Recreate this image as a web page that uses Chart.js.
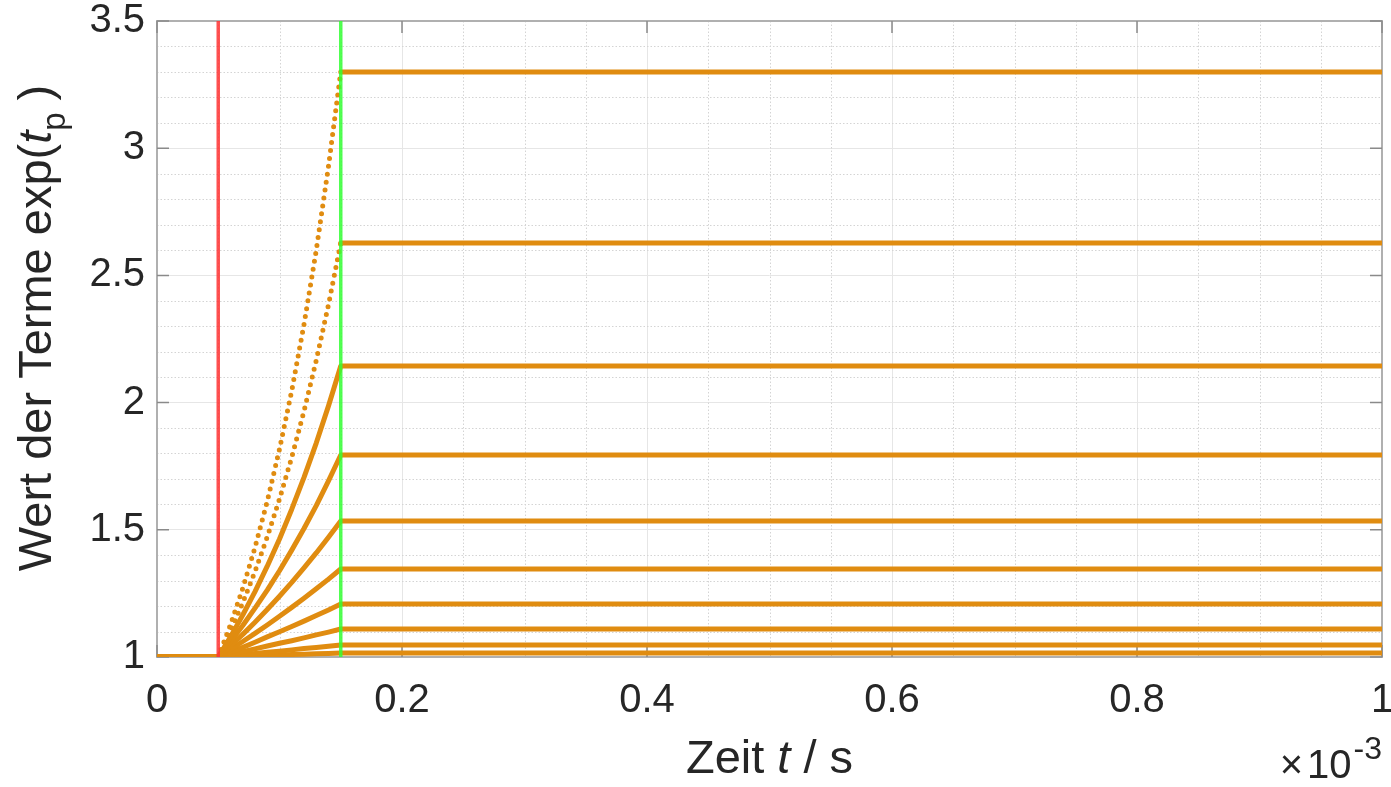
<!DOCTYPE html>
<html>
<head>
<meta charset="utf-8">
<script src="https://cdn.jsdelivr.net/npm/chart.js@4.4.1/dist/chart.umd.min.js"></script>
<style>
  body { margin: 0; background: #fff; }
  #wrap { width: 1391px; height: 787px; }
</style>
</head>
<body>
<div id="wrap"><canvas id="myChart" width="1391" height="787"></canvas></div>
<script>
// time in units of 1e-3 s
const timeMs = [0, 0.05, 0.06, 0.07, 0.08, 0.09, 0.10, 0.11, 0.12, 0.13, 0.14, 0.15, 1.0];

// values of the terms exp(t_p) (top curve first)
const term1  = [1, 1, 1.127, 1.270, 1.431, 1.612, 1.817, 2.047, 2.307, 2.599, 2.929, 3.300, 3.300];
const term2  = [1, 1, 1.101, 1.213, 1.336, 1.472, 1.621, 1.785, 1.966, 2.166, 2.385, 2.627, 2.627];
const term3  = [1, 1, 1.079, 1.165, 1.257, 1.357, 1.464, 1.581, 1.706, 1.841, 1.987, 2.144, 2.144];
const term4  = [1, 1, 1.060, 1.124, 1.192, 1.263, 1.339, 1.420, 1.505, 1.595, 1.692, 1.794, 1.794];
const term5  = [1, 1, 1.044, 1.089, 1.137, 1.187, 1.239, 1.293, 1.350, 1.409, 1.471, 1.535, 1.535];
const term6  = [1, 1, 1.030, 1.061, 1.093, 1.126, 1.160, 1.195, 1.231, 1.268, 1.306, 1.346, 1.346];
const term7  = [1, 1, 1.019, 1.038, 1.058, 1.079, 1.099, 1.120, 1.141, 1.163, 1.185, 1.208, 1.208];
const term8  = [1, 1, 1.010, 1.021, 1.032, 1.043, 1.054, 1.064, 1.075, 1.087, 1.098, 1.110, 1.110];
const term9  = [1, 1, 1.005, 1.009, 1.014, 1.019, 1.023, 1.028, 1.033, 1.037, 1.042, 1.047, 1.047];
const term10 = [1, 1, 1.002, 1.003, 1.005, 1.006, 1.008, 1.010, 1.011, 1.013, 1.014, 1.016, 1.016];
const terms = [term1, term2, term3, term4, term5, term6, term7, term8, term9, term10];

// start / end markers of the pulse
const startTime = 0.05;
const endTime = 0.15;
const markerRange = [1, 3.5];

const xTicks = [0, 0.2, 0.4, 0.6, 0.8, 1];
const yTicks = [1, 1.5, 2, 2.5, 3, 3.5];

const FONT = "'Liberation Sans', Arial, Helvetica, sans-serif";
const ORANGE = '#e08c10';
const TEXT = '#262626';

const datasets = [];
datasets.push({
    data: markerRange.map(v => ({ x: startTime, y: v })),
    borderColor: 'rgba(255, 50, 50, 0.85)',
    borderWidth: 3.5,
    pointRadius: 0,
    order: 0
});
datasets.push({
    data: markerRange.map(v => ({ x: endTime, y: v })),
    borderColor: 'rgba(50, 255, 50, 0.85)',
    borderWidth: 3.5,
    pointRadius: 0,
    order: 0
});
terms.forEach((vals, i) => {
    datasets.push({
        data: vals.map((v, j) => ({ x: timeMs[j], y: v })),
        borderColor: ORANGE,
        borderWidth: 5,
        borderCapStyle: 'round',
        borderJoinStyle: 'round',
        pointRadius: 0,
        tension: 0,
        order: 1,
        segment: {
            // steep rising parts of the two top curves look dotted
            borderDash: ctx => (i < 2 && ctx.p1DataIndex >= 2 && ctx.p1DataIndex <= 11) ? [0, 8] : undefined
        }
    });
});

function isMajor(v, step) {
    return Math.abs(v / step - Math.round(v / step)) < 1e-6;
}

function drawParts(ctx, parts, x, y) {
    let cx = x;
    parts.forEach(p => {
        ctx.font = p.font;
        cx += p.gap || 0;
        ctx.fillText(p.text, cx, y + (p.dy || 0));
        cx += ctx.measureText(p.text).width;
    });
}

function partsWidth(ctx, parts) {
    let w = 0;
    parts.forEach(p => { ctx.font = p.font; w += ctx.measureText(p.text).width + (p.gap || 0); });
    return w;
}

const matlabAxes = {
    id: 'matlabAxes',
    beforeDatasetsDraw(chart) {
        const { ctx, chartArea: a, scales: { x, y } } = chart;
        ctx.save();
        // minor grid, dotted
        ctx.strokeStyle = '#d4d4d4';
        ctx.lineWidth = 1;
        ctx.setLineDash([1.5, 2]);
        for (let k = 1; k < 20; k++) {
            const v = k * 0.05;
            if (isMajor(v, 0.2)) continue;
            const px = Math.round(x.getPixelForValue(v)) + 0.5;
            ctx.beginPath(); ctx.moveTo(px, a.top); ctx.lineTo(px, a.bottom); ctx.stroke();
        }
        for (let k = 1; k < 25; k++) {
            const v = 1 + k * 0.1;
            if (isMajor(v, 0.5)) continue;
            const py = Math.round(y.getPixelForValue(v)) + 0.5;
            ctx.beginPath(); ctx.moveTo(a.left, py); ctx.lineTo(a.right, py); ctx.stroke();
        }
        ctx.setLineDash([]);
        // box
        ctx.strokeStyle = '#b0b0b0';
        ctx.lineWidth = 2;
        ctx.strokeRect(a.left, a.top, a.right - a.left, a.bottom - a.top);
        // inward ticks
        ctx.strokeStyle = '#8a8a8a';
        ctx.lineWidth = 1.5;
        xTicks.forEach(v => {
            const px = x.getPixelForValue(v);
            ctx.beginPath();
            ctx.moveTo(px, a.bottom); ctx.lineTo(px, a.bottom - 12);
            ctx.moveTo(px, a.top); ctx.lineTo(px, a.top + 12);
            ctx.stroke();
        });
        yTicks.forEach(v => {
            const py = y.getPixelForValue(v);
            ctx.beginPath();
            ctx.moveTo(a.left, py); ctx.lineTo(a.left + 12, py);
            ctx.moveTo(a.right, py); ctx.lineTo(a.right - 12, py);
            ctx.stroke();
        });
        ctx.restore();
    },
    afterDraw(chart) {
        const { ctx, chartArea: a } = chart;
        ctx.save();
        ctx.fillStyle = TEXT;
        ctx.textBaseline = 'alphabetic';
        ctx.textAlign = 'left';

        // x axis title
        const xParts = [
            { text: 'Zeit ', font: '47px ' + FONT },
            { text: 't', font: 'italic 47px ' + FONT },
            { text: ' / s', font: '47px ' + FONT }
        ];
        const cx = (a.left + a.right) / 2;
        drawParts(ctx, xParts, cx - partsWidth(ctx, xParts) / 2, 773);

        // exponent label
        const eParts = [
            { text: '\u00d7', font: '40px ' + FONT },
            { text: '10', font: '40px ' + FONT, gap: 4 },
            { text: '-3', font: '32px ' + FONT, dy: -19, gap: 2 }
        ];
        drawParts(ctx, eParts, a.right - partsWidth(ctx, eParts), 778);

        // y axis title
        const yParts = [
            { text: 'Wert der Terme exp(', font: '47px ' + FONT },
            { text: 't', font: 'italic 47px ' + FONT },
            { text: 'p', font: '33px ' + FONT, dy: 14 },
            { text: ')', font: '47px ' + FONT, gap: 12 }
        ];
        ctx.translate(51, 328);
        ctx.rotate(-Math.PI / 2);
        drawParts(ctx, yParts, -partsWidth(ctx, yParts) / 2, 0);
        ctx.restore();
    }
};

new Chart(document.getElementById('myChart'), {
    type: 'line',
    data: { datasets: datasets },
    options: {
        responsive: false,
        animation: false,
        layout: { padding: { top: 21, right: 9, left: 0, bottom: 0 } },
        plugins: { legend: { display: false }, tooltip: { enabled: false } },
        scales: {
            x: {
                type: 'linear',
                min: 0,
                max: 1,
                afterBuildTicks: scale => { scale.ticks = xTicks.map(v => ({ value: v })); },
                afterFit: scale => { scale.height = 130; scale.paddingLeft = 0; scale.paddingRight = 0; },
                ticks: {
                    autoSkip: false,
                    maxRotation: 0,
                    padding: 20,
                    color: TEXT,
                    font: { family: FONT, size: 40 },
                    callback: v => String(Math.round(v * 10) / 10)
                },
                grid: { color: '#e6e6e6', lineWidth: 1, drawTicks: false },
                border: { display: false }
            },
            y: {
                type: 'linear',
                min: 1,
                max: 3.5,
                afterBuildTicks: scale => { scale.ticks = yTicks.map(v => ({ value: v })); },
                afterFit: scale => { scale.width = 157; scale.paddingTop = 0; scale.paddingBottom = 0; },
                ticks: {
                    autoSkip: false,
                    padding: 12,
                    color: TEXT,
                    font: { family: FONT, size: 40 },
                    callback: v => String(v)
                },
                grid: { color: '#e6e6e6', lineWidth: 1, drawTicks: false },
                border: { display: false }
            }
        }
    },
    plugins: [matlabAxes]
});
</script>
</body>
</html>
